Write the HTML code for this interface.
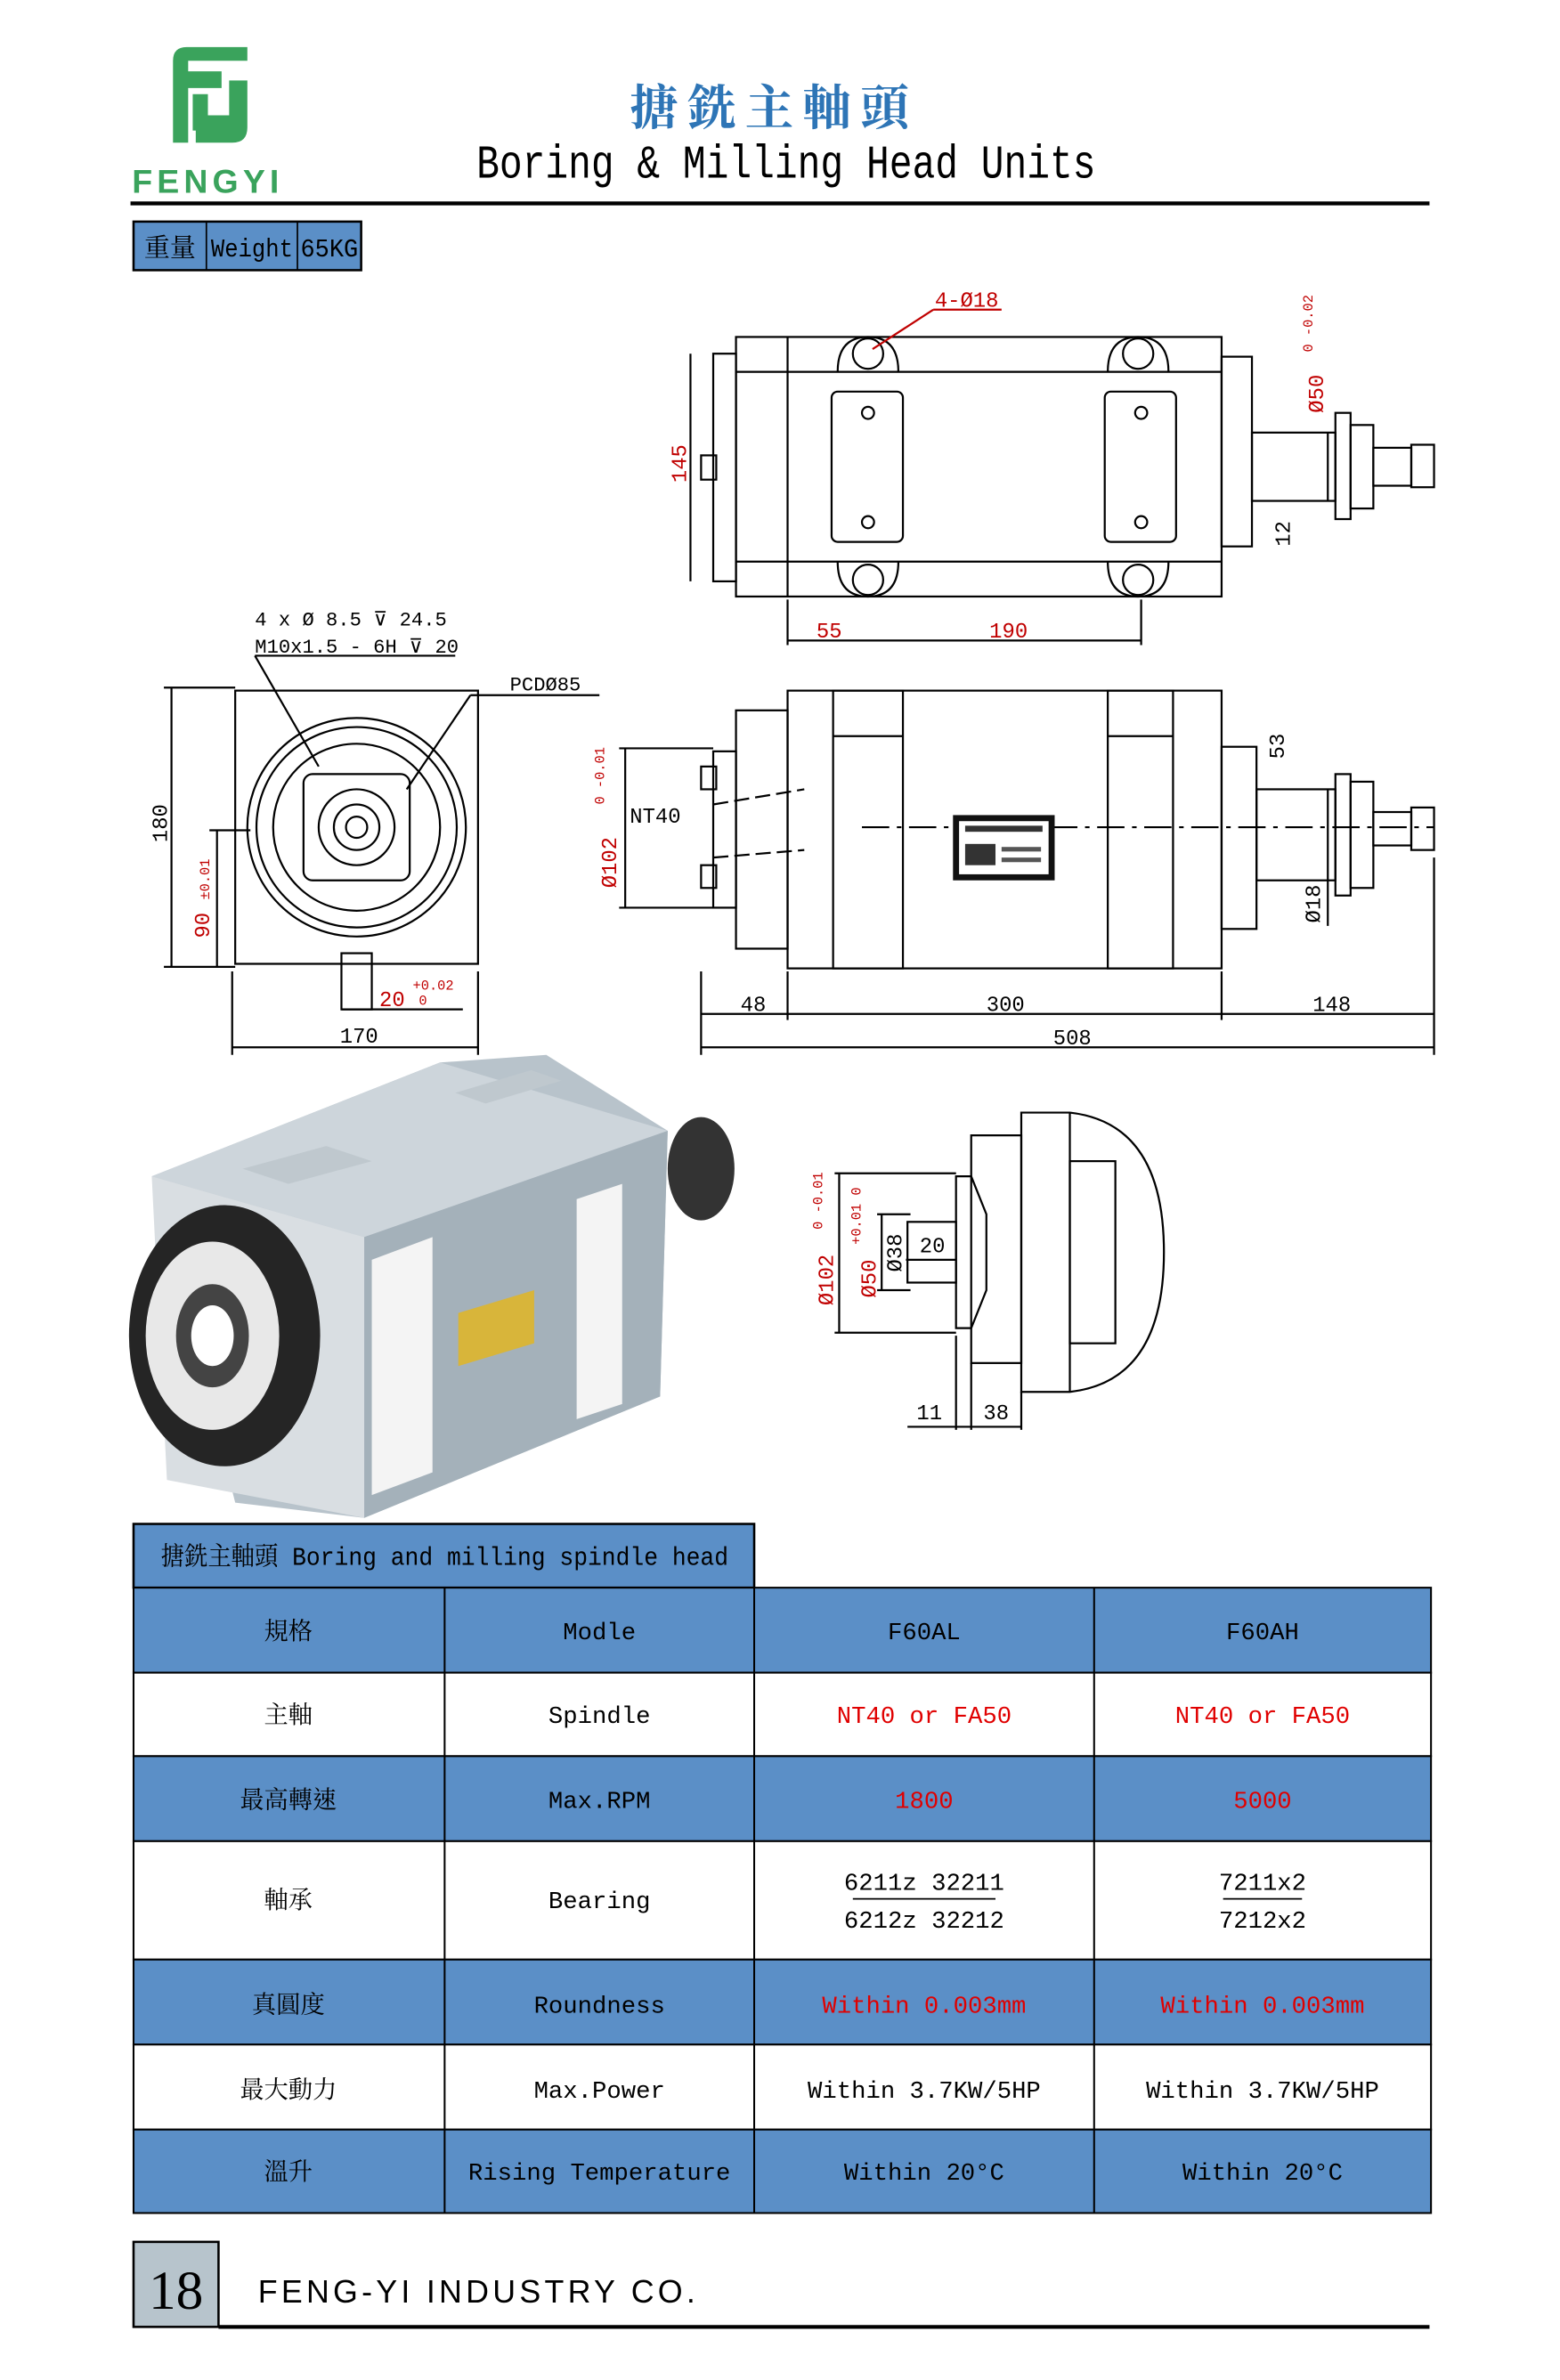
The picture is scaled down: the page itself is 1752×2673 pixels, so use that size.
<!DOCTYPE html>
<html><head><meta charset="utf-8"><style>
html,body{margin:0;padding:0;background:#fff;}
svg{display:block;}
text{font-family:"Liberation Mono","Noto Serif CJK TC",monospace;}
.s{font-family:"Liberation Serif","Noto Serif CJK TC",serif;}
</style></head><body>
<svg width="1752" height="2673" viewBox="0 0 1028 1568" preserveAspectRatio="none" xmlns="http://www.w3.org/2000/svg">
<rect width="1028" height="1568" fill="#fff"/>
<!-- logo -->
<g fill="#3aa35c">
<path d="M114 40 Q114 31 123 31 L163 31 L163 40 L124 40 L124 47 L146 47 L146 58 L124 58 L124 94 L114 94 Z"/>
<path d="M127 62 L137 62 L137 76 L151 76 L151 53 L163 53 L163 84 Q163 94 153 94 L129 94 L129 86 L137 86 L137 86 L127 86 Z"/>
</g>
<text x="87" y="127" font-size="22" font-weight="bold" fill="#3aa35c" letter-spacing="3" style="font-family:'Liberation Sans',sans-serif">FENGYI</text>
<text x="510" y="82" text-anchor="middle" font-size="32" fill="#2e75b6" font-weight="bold" letter-spacing="6" class="s">搪銑主軸頭</text>
<text x="518" y="117" text-anchor="middle" font-size="31" fill="#000" textLength="408" lengthAdjust="spacingAndGlyphs" style="font-family:'Liberation Mono',monospace">Boring &amp; Milling Head Units</text>
<line x1="86" y1="134" x2="942" y2="134" stroke="#000" stroke-width="2.5"/>
<!-- weight -->
<rect x="88" y="146" width="150" height="32" fill="#5b8fc7" stroke="#000" stroke-width="1.5"/>
<line x1="136" y1="146" x2="136" y2="178" stroke="#000"/><line x1="196" y1="146" x2="196" y2="178" stroke="#000"/>
<text x="112" y="169" text-anchor="middle" font-size="17" class="s">重量</text>
<text x="166" y="169" text-anchor="middle" font-size="17" textLength="54" lengthAdjust="spacingAndGlyphs">Weight</text>
<text x="217" y="169" text-anchor="middle" font-size="17" textLength="38" lengthAdjust="spacingAndGlyphs">65KG</text>

<g fill="none" stroke="#000" stroke-width="1.3">
<!-- top view -->
<rect x="485" y="222" width="320" height="171"/>
<line x1="519" y1="222" x2="519" y2="393"/>
<rect x="470" y="233" width="15" height="150"/>
<rect x="462" y="300" width="10" height="16"/>
<line x1="485" y1="245" x2="805" y2="245"/><line x1="485" y1="370" x2="805" y2="370"/>
<circle cx="572" cy="233" r="10"/><circle cx="750" cy="233" r="10"/><circle cx="572" cy="382" r="10"/><circle cx="750" cy="382" r="10"/>
<path d="M552 245 Q552 222 572 222 Q592 222 592 245"/><path d="M730 245 Q730 222 750 222 Q770 222 770 245"/>
<path d="M552 370 Q552 393 572 393 Q592 393 592 370"/><path d="M730 370 Q730 393 750 393 Q770 393 770 370"/>
<rect x="548" y="258" width="47" height="99" rx="4"/><rect x="728" y="258" width="47" height="99" rx="4"/>
<circle cx="572" cy="272" r="4"/><circle cx="572" cy="344" r="4"/><circle cx="752" cy="272" r="4"/><circle cx="752" cy="344" r="4"/>
<rect x="805" y="235" width="20" height="125"/>
<rect x="825" y="285" width="55" height="45"/>
<rect x="880" y="272" width="10" height="70"/><rect x="890" y="280" width="15" height="55"/>
<rect x="905" y="295" width="25" height="25"/><rect x="930" y="293" width="15" height="28"/>
<line x1="455" y1="233" x2="455" y2="383"/>
<line x1="519" y1="395" x2="519" y2="425"/><line x1="752" y1="395" x2="752" y2="425"/>
<line x1="519" y1="422" x2="752" y2="422"/>
<line x1="875" y1="285" x2="875" y2="330"/>
<line x1="615" y1="204" x2="660" y2="204" stroke="#c00000"/><line x1="615" y1="204" x2="575" y2="230" stroke="#c00000"/>
<!-- front view -->
<path d="M155 455 L315 455 L315 635 L155 635 Z"/>
<circle cx="235" cy="545" r="72"/><circle cx="235" cy="545" r="66"/><circle cx="235" cy="545" r="55"/>
<rect x="200" y="510" width="70" height="70" rx="6"/>
<circle cx="235" cy="545" r="25"/><circle cx="235" cy="545" r="15"/><circle cx="235" cy="545" r="7"/>
<rect x="225" y="628" width="20" height="37"/>
<line x1="113" y1="453" x2="113" y2="637"/><line x1="108" y1="453" x2="155" y2="453"/><line x1="108" y1="637" x2="155" y2="637"/>
<line x1="143" y1="547" x2="143" y2="637"/><line x1="138" y1="547" x2="165" y2="547"/>
<line x1="153" y1="640" x2="153" y2="695"/><line x1="315" y1="640" x2="315" y2="695"/><line x1="153" y1="690" x2="315" y2="690"/>
<line x1="225" y1="665" x2="305" y2="665"/>
<line x1="168" y1="432" x2="210" y2="505"/><line x1="168" y1="432" x2="300" y2="432"/>
<line x1="268" y1="520" x2="310" y2="458"/><line x1="310" y1="458" x2="395" y2="458"/>
<!-- side view -->
<rect x="519" y="455" width="286" height="183"/>
<rect x="549" y="455" width="46" height="183"/><rect x="730" y="455" width="43" height="183"/>
<line x1="549" y1="485" x2="595" y2="485"/><line x1="730" y1="485" x2="773" y2="485"/>
<rect x="485" y="468" width="34" height="157"/>
<rect x="470" y="495" width="15" height="103"/>
<rect x="462" y="505" width="10" height="15"/><rect x="462" y="570" width="10" height="15"/>
<rect x="805" y="492" width="23" height="120"/>
<rect x="828" y="520" width="52" height="60"/>
<rect x="880" y="510" width="10" height="80"/><rect x="890" y="515" width="15" height="70"/>
<rect x="905" y="535" width="25" height="22"/><rect x="930" y="532" width="15" height="28"/>
<line x1="568" y1="545" x2="945" y2="545" stroke-dasharray="18,5,3,5"/>
<line x1="470" y1="530" x2="530" y2="520" stroke-dasharray="10,4"/><line x1="470" y1="565" x2="530" y2="560" stroke-dasharray="10,4"/>
<line x1="408" y1="493" x2="470" y2="493"/><line x1="408" y1="598" x2="470" y2="598"/><line x1="412" y1="493" x2="412" y2="598"/>
<line x1="462" y1="640" x2="462" y2="695"/><line x1="519" y1="640" x2="519" y2="672"/><line x1="805" y1="640" x2="805" y2="672"/><line x1="945" y1="565" x2="945" y2="695"/>
<line x1="462" y1="668" x2="945" y2="668"/><line x1="462" y1="690" x2="945" y2="690"/>
<line x1="875" y1="520" x2="875" y2="610"/>
<!-- detail view -->
<path d="M673 733 L705 733 Q767 740 767 825 Q767 910 705 917 L673 917 Z"/>
<line x1="705" y1="733" x2="705" y2="917"/>
<rect x="705" y="765" width="30" height="120"/>
<rect x="640" y="748" width="33" height="150"/>
<path d="M630 775 L640 775 L650 800 L650 850 L640 875 L630 875 Z"/>
<rect x="598" y="805" width="32" height="40"/>
<line x1="550" y1="773" x2="630" y2="773"/><line x1="550" y1="878" x2="630" y2="878"/><line x1="553" y1="773" x2="553" y2="878"/>
<line x1="578" y1="800" x2="600" y2="800"/><line x1="578" y1="850" x2="600" y2="850"/><line x1="581" y1="800" x2="581" y2="850"/>
<line x1="597" y1="830" x2="630" y2="830"/>
<line x1="598" y1="940" x2="673" y2="940"/><line x1="630" y1="880" x2="630" y2="942"/><line x1="640" y1="898" x2="640" y2="942"/><line x1="673" y1="917" x2="673" y2="942"/>
</g>
<!-- nameplate -->
<rect x="628" y="537" width="67" height="43" fill="#111"/>
<rect x="632" y="541" width="59" height="35" fill="#fff"/>
<rect x="636" y="544" width="51" height="4" fill="#333"/>
<rect x="636" y="556" width="20" height="14" fill="#333"/>
<rect x="660" y="558" width="26" height="3" fill="#555"/>
<rect x="660" y="565" width="26" height="3" fill="#555"/>
<g font-size="14" fill="#000" class="s">
<text x="616" y="202" fill="#c00000">4-Ø18</text>
<text x="452" y="318" fill="#c00000" transform="rotate(-90 452 318)">145</text>
<text x="872" y="272" fill="#c00000" transform="rotate(-90 872 272)">Ø50</text>
<text x="865" y="232" fill="#c00000" font-size="9" transform="rotate(-90 865 232)">0 -0.02</text>
<text x="850" y="360" transform="rotate(-90 850 360)">12</text>
<text x="538" y="420" fill="#c00000">55</text><text x="652" y="420" fill="#c00000">190</text>
<text x="168" y="412" font-size="13">4 x Ø 8.5 ⊽ 24.5</text>
<text x="168" y="430" font-size="13">M10x1.5 - 6H ⊽ 20</text>
<text x="336" y="455" font-size="13">PCDØ85</text>
<text x="110" y="555" transform="rotate(-90 110 555)">180</text>
<text x="138" y="618" fill="#c00000" transform="rotate(-90 138 618)">90 <tspan font-size="9">±0.01</tspan></text>
<text x="250" y="663" fill="#c00000">20</text><text x="272" y="652" fill="#c00000" font-size="9">+0.02</text><text x="276" y="662" fill="#c00000" font-size="9">0</text>
<text x="224" y="687">170</text>
<text x="406" y="585" fill="#c00000" transform="rotate(-90 406 585)">Ø102</text>
<text x="398" y="530" font-size="9" fill="#c00000" transform="rotate(-90 398 530)">0 -0.01</text>
<text x="415" y="542">NT40</text>
<text x="846" y="500" transform="rotate(-90 846 500)">53</text>
<text x="870" y="608" transform="rotate(-90 870 608)">Ø18</text>
<text x="488" y="666">48</text><text x="650" y="666">300</text><text x="865" y="666">148</text><text x="694" y="688">508</text>
<text x="549" y="860" fill="#c00000" transform="rotate(-90 549 860)">Ø102</text>
<text x="542" y="810" font-size="9" fill="#c00000" transform="rotate(-90 542 810)">0 -0.01</text>
<text x="577" y="855" fill="#c00000" transform="rotate(-90 577 855)">Ø50</text>
<text x="567" y="820" font-size="9" fill="#c00000" transform="rotate(-90 567 820)">+0.01 0</text>
<text x="594" y="838" transform="rotate(-90 594 838)">Ø38</text>
<text x="606" y="825">20</text>
<text x="604" y="935">11</text><text x="648" y="935">38</text>
</g>
<!-- photo -->
<polygon points="100,775 290,700 360,695 440,745 435,920 240,1000 155,990" fill="#b8c3cb"/>
<polygon points="100,775 290,700 440,745 240,815" fill="#cdd5db"/>
<polygon points="240,815 440,745 435,920 240,1000" fill="#a4b1ba"/>
<polygon points="100,775 240,815 240,1000 110,975" fill="#d9dee2"/>
<polygon points="245,830 285,815 285,970 245,985" fill="#f4f4f4"/>
<polygon points="380,790 410,780 410,925 380,935" fill="#f4f4f4"/>
<polygon points="302,865 352,850 352,885 302,900" fill="#d8b53a"/>
<polygon points="160,770 215,755 245,765 190,780" fill="#bfc8ce"/>
<polygon points="300,720 350,705 370,712 320,727" fill="#bfc8ce"/>
<ellipse cx="148" cy="880" rx="63" ry="86" fill="#252525"/>
<ellipse cx="140" cy="880" rx="44" ry="62" fill="#e8e8e8"/>
<ellipse cx="140" cy="880" rx="24" ry="34" fill="#444"/>
<ellipse cx="140" cy="880" rx="14" ry="20" fill="#fff"/>
<ellipse cx="462" cy="770" rx="22" ry="34" fill="#333"/>
<!-- table -->
<rect x="88" y="1004" width="409" height="42" fill="#5b8fc7" stroke="#000" stroke-width="1.5"/>
<text x="106" y="1031" font-size="17" textLength="374" lengthAdjust="spacingAndGlyphs">搪銑主軸頭 Boring and milling spindle head</text>
<g stroke="#000" stroke-width="1.2">
<rect x="88" y="1046" width="855" height="56" fill="#5b8fc7"/>
<rect x="88" y="1102" width="855" height="55" fill="#fff"/>
<rect x="88" y="1157" width="855" height="56" fill="#5b8fc7"/>
<rect x="88" y="1213" width="855" height="78" fill="#fff"/>
<rect x="88" y="1291" width="855" height="56" fill="#5b8fc7"/>
<rect x="88" y="1347" width="855" height="56" fill="#fff"/>
<rect x="88" y="1403" width="855" height="55" fill="#5b8fc7"/>
<line x1="293" y1="1046" x2="293" y2="1458"/><line x1="497" y1="1046" x2="497" y2="1458"/><line x1="721" y1="1046" x2="721" y2="1458"/>
</g>
<g font-size="16" text-anchor="middle">
<text x="190" y="1080">規格</text><text x="395" y="1080">Modle</text><text x="609" y="1080">F60AL</text><text x="832" y="1080">F60AH</text>
<text x="190" y="1135">主軸</text><text x="395" y="1135">Spindle</text><text x="609" y="1135" fill="#e00000">NT40 or FA50</text><text x="832" y="1135" fill="#e00000">NT40 or FA50</text>
<text x="190" y="1191">最高轉速</text><text x="395" y="1191">Max.RPM</text><text x="609" y="1191" fill="#e00000">1800</text><text x="832" y="1191" fill="#e00000">5000</text>
<text x="190" y="1257">軸承</text><text x="395" y="1257">Bearing</text>
<text x="609" y="1245">6211z 32211</text><text x="609" y="1270">6212z 32212</text><line x1="562" y1="1251" x2="656" y2="1251" stroke="#000"/>
<text x="832" y="1245">7211x2</text><text x="832" y="1270">7212x2</text><line x1="806" y1="1251" x2="858" y2="1251" stroke="#000"/>
<text x="190" y="1326">真圓度</text><text x="395" y="1326">Roundness</text><text x="609" y="1326" fill="#e00000">Within 0.003mm</text><text x="832" y="1326" fill="#e00000">Within 0.003mm</text>
<text x="190" y="1382">最大動力</text><text x="395" y="1382">Max.Power</text><text x="609" y="1382">Within 3.7KW/5HP</text><text x="832" y="1382">Within 3.7KW/5HP</text>
<text x="190" y="1436">溫升</text><text x="395" y="1436">Rising Temperature</text><text x="609" y="1436">Within 20°C</text><text x="832" y="1436">Within 20°C</text>
</g>
<!-- footer -->
<rect x="88" y="1477" width="56" height="56" fill="#b7c4cc" stroke="#000" stroke-width="1.5"/>
<text x="116" y="1521" text-anchor="middle" font-size="36" class="s">18</text>
<text x="170" y="1517" font-size="21" letter-spacing="2.5" style="font-family:'Liberation Sans',sans-serif">FENG-YI INDUSTRY CO.</text>
<line x1="144" y1="1533" x2="942" y2="1533" stroke="#000" stroke-width="2.5"/>
</svg>
</body></html>
